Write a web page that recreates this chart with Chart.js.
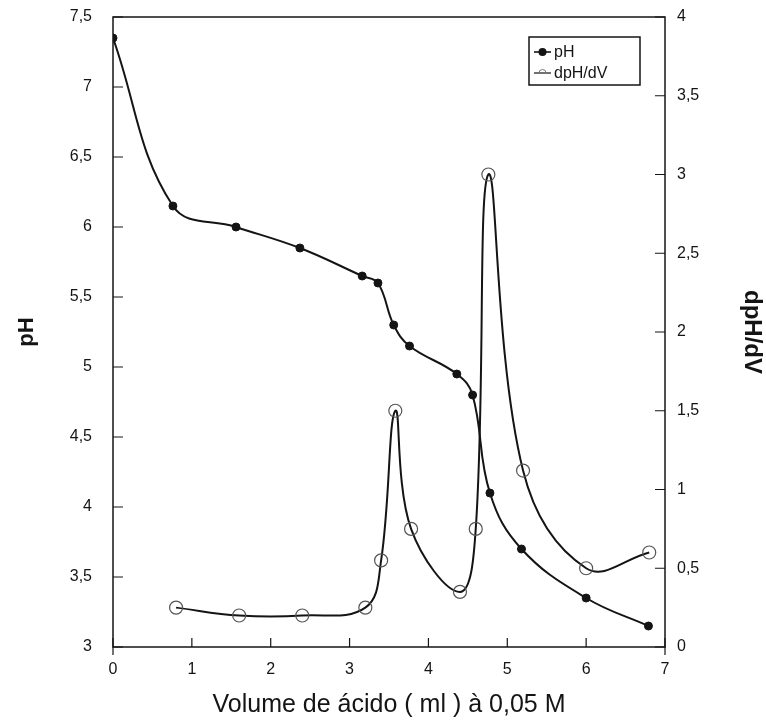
<!DOCTYPE html>
<html>
<head>
<meta charset="utf-8">
<script src="https://cdn.jsdelivr.net/npm/chart.js@4.4.1/dist/chart.umd.min.js"></script>
<style>
  html, body { margin: 0; padding: 0; background: #fff; }
  #wrap { width: 766px; height: 726px; }
</style>
</head>
<body>
<div id="wrap"><canvas id="c" width="766" height="726"></canvas></div>
<script>
// ---- data ----
const phVolume   = [0, 0.76, 1.56, 2.37, 3.16, 3.36, 3.56, 3.76, 4.36, 4.56, 4.78, 5.18, 6.0, 6.79];
const phValues   = [7.35, 6.15, 6.0, 5.85, 5.65, 5.6, 5.3, 5.15, 4.95, 4.8, 4.1, 3.7, 3.35, 3.15];
const dVolume    = [0.8, 1.6, 2.4, 3.2, 3.4, 3.58, 3.78, 4.4, 4.6, 4.76, 5.2, 6.0, 6.8];
const dValues    = [0.25, 0.2, 0.2, 0.25, 0.55, 1.5, 0.75, 0.35, 0.75, 3.0, 1.12, 0.5, 0.6];
const seriesNames = ['pH', 'dpH/dV'];
const xTitle = 'Volume de ácido ( ml ) à 0,05 M';
const yLeftTitle = 'pH';
const yRightTitle = 'dpH/dV';

const INK = '#141414';
const FONT = "'Liberation Sans', Arial, sans-serif";
const comma = v => String(v).replace('.', ',');

const frameAndTicks = {
  id: 'frameAndTicks',
  afterDatasetsDraw(chart) {
    const {ctx, chartArea: a, scales} = chart;
    ctx.save();
    ctx.strokeStyle = INK;
    ctx.lineWidth = 1.5;
    ctx.strokeRect(a.left, a.top, a.right - a.left, a.bottom - a.top);
    ctx.lineWidth = 1.2;
    ctx.beginPath();
    scales.x.ticks.forEach(t => {
      const px = scales.x.getPixelForValue(t.value);
      ctx.moveTo(px, a.bottom); ctx.lineTo(px, a.bottom - 9);
    });
    ctx.moveTo(a.left, a.bottom); ctx.lineTo(a.left, a.bottom + 8);
    ctx.moveTo(a.right, a.bottom); ctx.lineTo(a.right, a.bottom + 8);
    scales.y.ticks.forEach(t => {
      const py = scales.y.getPixelForValue(t.value);
      ctx.moveTo(a.left, py); ctx.lineTo(a.left + 10, py);
    });
    scales.y1.ticks.forEach(t => {
      const py = scales.y1.getPixelForValue(t.value);
      ctx.moveTo(a.right, py); ctx.lineTo(a.right - 10, py);
    });
    ctx.stroke();

    // legend box
    const bx = 529, by = 37, bw = 111, bh = 48;
    ctx.lineWidth = 1.5;
    ctx.strokeRect(bx, by, bw, bh);
    ctx.font = '16px ' + FONT;
    ctx.fillStyle = INK;
    ctx.textBaseline = 'middle';
    const rows = [52, 73];
    ctx.beginPath(); ctx.lineWidth = 1.6;
    ctx.moveTo(534, rows[0]); ctx.lineTo(551, rows[0]); ctx.stroke();
    ctx.beginPath(); ctx.arc(542.5, rows[0], 4, 0, Math.PI * 2); ctx.fill();
    ctx.fillText(seriesNames[0], 554, rows[0] + 1);
    ctx.beginPath(); ctx.lineWidth = 1.2;
    ctx.moveTo(534, rows[1]); ctx.lineTo(551, rows[1]); ctx.stroke();
    ctx.beginPath(); ctx.strokeStyle = '#777'; ctx.lineWidth = 1;
    ctx.arc(542.5, rows[1], 3.5, Math.PI, 0); ctx.stroke();
    ctx.fillText(seriesNames[1], 554, rows[1] + 1);
    ctx.restore();
  }
};

function fixV(w) {
  return s => { s.width = w; s.paddingTop = 0; s.paddingBottom = 0; };
}

new Chart(document.getElementById('c'), {
  type: 'line',
  data: {
    datasets: [
      {
        label: seriesNames[0],
        data: phVolume.map((x, i) => ({x, y: phValues[i]})),
        yAxisID: 'y',
        borderColor: INK,
        borderWidth: 2,
        pointRadius: 4,
        pointBackgroundColor: INK,
        pointBorderColor: INK,
        pointBorderWidth: 1,
        tension: 0.4,
        fill: false
      },
      {
        label: seriesNames[1],
        data: dVolume.map((x, i) => ({x, y: dValues[i]})),
        yAxisID: 'y1',
        borderColor: INK,
        borderWidth: 2,
        pointRadius: 6.5,
        pointBackgroundColor: 'rgba(0,0,0,0)',
        pointBorderColor: '#555',
        pointBorderWidth: 1.2,
        tension: 0.4,
        fill: false
      }
    ]
  },
  options: {
    responsive: false,
    devicePixelRatio: 1,
    animation: false,
    layout: { padding: { top: 17, left: 0, right: 0, bottom: 0 } },
    plugins: { legend: { display: false }, tooltip: { enabled: false } },
    scales: {
      x: {
        type: 'linear', min: 0, max: 7,
        border: { display: false },
        grid: { display: false, drawTicks: false },
        ticks: { stepSize: 1, padding: 13, color: INK, font: { family: FONT, size: 16 }, callback: comma },
        title: { display: true, text: xTitle, color: INK, font: { family: FONT, size: 25 }, padding: { top: 0, bottom: 6 } },
        afterFit(s) { s.height = 79; s.paddingLeft = 0; s.paddingRight = 0; }
      },
      y: {
        type: 'linear', position: 'left', min: 3, max: 7.5,
        border: { display: false },
        grid: { display: false, drawTicks: false },
        ticks: { stepSize: 0.5, padding: 21, color: INK, font: { family: FONT, size: 16 }, callback: comma },
        title: { display: true, text: yLeftTitle, color: INK, font: { family: FONT, size: 22, weight: 'bold' }, padding: { top: 14, bottom: 0 } },
        afterFit: fixV(113)
      },
      y1: {
        type: 'linear', position: 'right', min: 0, max: 4,
        border: { display: false },
        grid: { display: false, drawTicks: false },
        ticks: { stepSize: 0.5, padding: 12, color: INK, font: { family: FONT, size: 16 }, callback: comma },
        title: { display: true, text: yRightTitle, color: INK, font: { family: FONT, size: 24, weight: 'bold' }, padding: { top: 0, bottom: 0 } },
        afterFit: fixV(101)
      }
    }
  },
  plugins: [frameAndTicks]
});
</script>
</body>
</html>
